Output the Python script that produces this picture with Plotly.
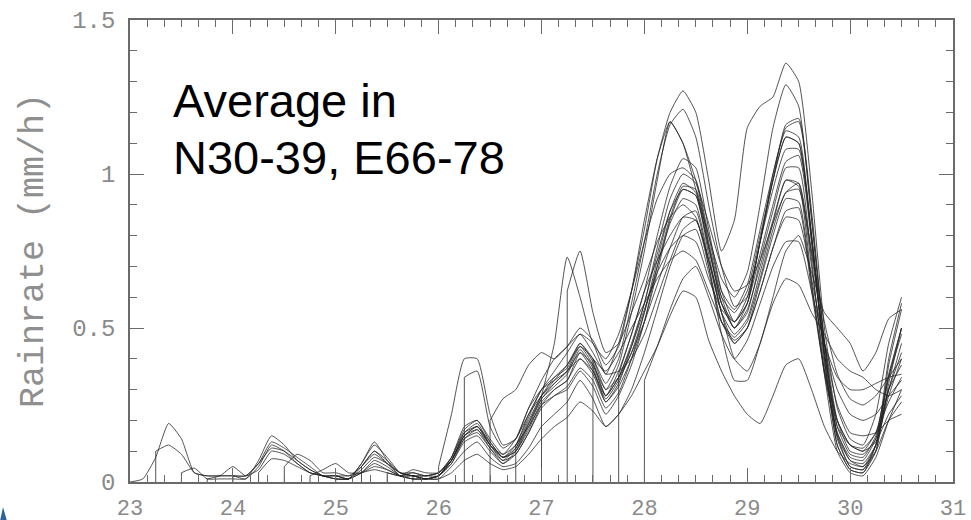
import plotly.graph_objects as go

# ---------------- data ----------------
STEP = 0.125  # days between samples (3-hourly)
START_TIMES = [23.0, 23.25, 23.5, 23.75, 24.0, 24.25, 24.5, 24.75, 25.0, 25.25,
               25.5, 25.75, 26.0, 26.25, 26.5, 26.75, 27.0, 27.25, 27.5, 27.75, 28.0]

M01 = [0.0, 0.01, 0.08, 0.19, 0.14, 0.03, 0.02, 0.02, 0.02, 0.01, 0.07, 0.15, 0.12, 0.07, 0.04, 0.02,
       0.02, 0.01, 0.06, 0.13, 0.07, 0.02, 0.02, 0.01,
       0.02, 0.08, 0.18, 0.20, 0.13, 0.08, 0.10, 0.17, 0.26, 0.30, 0.33, 0.40, 0.35, 0.26, 0.31, 0.40,
       0.52, 0.68, 0.85, 0.95, 0.93, 0.76, 0.58, 0.50, 0.56, 0.70, 0.85, 0.98, 0.96, 0.65, 0.35, 0.16,
       0.07, 0.05, 0.12, 0.28, 0.40]
M02 = [0.10, 0.12, 0.09, 0.03, 0.02, 0.02, 0.02, 0.02, 0.06, 0.13, 0.11, 0.08, 0.05, 0.02,
       0.02, 0.01, 0.05, 0.10, 0.06, 0.02, 0.01, 0.01,
       0.02, 0.07, 0.15, 0.17, 0.11, 0.07, 0.11, 0.20, 0.28, 0.33, 0.38, 0.45, 0.40, 0.30, 0.38, 0.55,
       0.75, 0.98, 1.17, 1.10, 0.95, 0.80, 0.66, 0.60, 0.68, 0.90, 1.15, 1.29, 1.22, 0.85, 0.45, 0.18,
       0.09, 0.08, 0.15, 0.35, 0.50]
M03 = [0.03, 0.045, 0.01, 0.01, 0.01, 0.01, 0.05, 0.12, 0.10, 0.06, 0.03, 0.02,
       0.01, 0.01, 0.06, 0.12, 0.08, 0.03, 0.02, 0.01,
       0.01, 0.05, 0.10, 0.13, 0.08, 0.05, 0.06, 0.11, 0.18, 0.22, 0.26, 0.33, 0.27, 0.18, 0.22, 0.30,
       0.42, 0.56, 0.70, 0.80, 0.82, 0.68, 0.52, 0.46, 0.50, 0.62, 0.76, 0.88, 0.89, 0.62, 0.36, 0.20,
       0.12, 0.10, 0.16, 0.26, 0.34]
M04 = [0.01, 0.02, 0.05, 0.02, 0.04, 0.10, 0.09, 0.06, 0.03, 0.02,
       0.02, 0.01, 0.04, 0.08, 0.06, 0.03, 0.02, 0.01,
       0.02, 0.06, 0.14, 0.16, 0.11, 0.06, 0.09, 0.16, 0.24, 0.28, 0.31, 0.37, 0.33, 0.24, 0.29, 0.40,
       0.55, 0.72, 0.88, 0.97, 0.94, 0.76, 0.60, 0.55, 0.62, 0.80, 0.98, 1.12, 1.10, 0.78, 0.40, 0.12,
       0.04, 0.03, 0.10, 0.38, 0.56]
M05 = [0.02, 0.02, 0.06, 0.11, 0.10, 0.07, 0.04, 0.02,
       0.01, 0.01, 0.03, 0.07, 0.05, 0.02, 0.01, 0.01,
       0.02, 0.07, 0.16, 0.19, 0.12, 0.08, 0.12, 0.22, 0.30, 0.36, 0.42, 0.48, 0.45, 0.35, 0.45, 0.62,
       0.82, 1.05, 1.20, 1.27, 1.20, 0.98, 0.75, 0.85, 1.15, 1.22, 1.25, 1.36, 1.30, 0.95, 0.50, 0.24,
       0.14, 0.12, 0.22, 0.45, 0.60]
M06 = [0.03, 0.075, 0.07, 0.05, 0.03, 0.02,
       0.01, 0.01, 0.03, 0.06, 0.04, 0.02, 0.01, 0.01,
       0.01, 0.03, 0.07, 0.09, 0.06, 0.04, 0.05, 0.09, 0.14, 0.18, 0.21, 0.26, 0.23, 0.18, 0.22, 0.28,
       0.36, 0.44, 0.54, 0.62, 0.60, 0.46, 0.36, 0.28, 0.22, 0.19, 0.28, 0.38, 0.40, 0.30, 0.18, 0.10,
       0.06, 0.05, 0.10, 0.20, 0.26]
M07 = [0.05, 0.09, 0.07, 0.03,
       0.03, 0.02, 0.05, 0.10, 0.07, 0.03, 0.03, 0.02,
       0.03, 0.08, 0.16, 0.18, 0.12, 0.07, 0.09, 0.16, 0.25, 0.30, 0.33, 0.42, 0.36, 0.27, 0.33, 0.42,
       0.55, 0.70, 0.84, 0.92, 0.90, 0.72, 0.55, 0.48, 0.53, 0.68, 0.84, 0.98, 0.97, 0.70, 0.38, 0.15,
       0.07, 0.06, 0.12, 0.30, 0.45]
M08 = [0.02, 0.04,
       0.06, 0.03, 0.03, 0.05, 0.04, 0.02, 0.02, 0.01,
       0.02, 0.06, 0.13, 0.15, 0.10, 0.06, 0.10, 0.19, 0.28, 0.34, 0.38, 0.44, 0.40, 0.32, 0.40, 0.58,
       0.78, 1.00, 1.16, 1.21, 1.12, 0.90, 0.70, 0.57, 0.60, 0.78, 1.00, 1.15, 1.17, 0.86, 0.45, 0.15,
       0.05, 0.04, 0.10, 0.32, 0.50]
M09 = [0.02, 0.02, 0.03, 0.04, 0.03, 0.02, 0.04, 0.03,
       0.03, 0.07, 0.15, 0.18, 0.12, 0.09, 0.14, 0.24, 0.33, 0.40, 0.44, 0.48, 0.42, 0.35, 0.36, 0.40,
       0.48, 0.60, 0.72, 0.82, 0.85, 0.72, 0.55, 0.40, 0.36, 0.45, 0.60, 0.75, 0.80, 0.68, 0.55, 0.50,
       0.45, 0.36, 0.42, 0.53, 0.56]
M10 = [0.05, 0.09, 0.06, 0.03, 0.02, 0.02,
       0.02, 0.07, 0.15, 0.18, 0.13, 0.08, 0.10, 0.18, 0.27, 0.31, 0.35, 0.43, 0.37, 0.26, 0.32, 0.44,
       0.58, 0.76, 0.92, 1.00, 0.97, 0.78, 0.60, 0.50, 0.55, 0.72, 0.88, 1.02, 1.02, 0.72, 0.35, 0.10,
       0.03, 0.02, 0.08, 0.20, 0.30]
M11 = [0.03, 0.02, 0.03, 0.02,
       0.03, 0.08, 0.17, 0.20, 0.14, 0.09, 0.12, 0.21, 0.30, 0.34, 0.37, 0.45, 0.39, 0.28, 0.34, 0.45,
       0.58, 0.74, 0.88, 0.95, 0.93, 0.74, 0.55, 0.45, 0.50, 0.65, 0.80, 0.92, 0.91, 0.64, 0.36, 0.16,
       0.08, 0.07, 0.14, 0.30, 0.38]
M12 = [0.02, 0.02,
       0.03, 0.07, 0.14, 0.17, 0.12, 0.08, 0.11, 0.19, 0.27, 0.32, 0.36, 0.44, 0.38, 0.28, 0.36, 0.48,
       0.62, 0.80, 0.96, 1.05, 1.02, 0.82, 0.62, 0.52, 0.58, 0.78, 0.98, 1.16, 1.18, 0.88, 0.46, 0.20,
       0.10, 0.09, 0.14, 0.30, 0.42]
M13 = [0.05, 0.22, 0.40, 0.40, 0.22, 0.12, 0.14, 0.24, 0.30, 0.33, 0.36, 0.42, 0.38, 0.30, 0.34, 0.42,
       0.52, 0.64, 0.76, 0.86, 0.88, 0.70, 0.48, 0.33, 0.33, 0.45, 0.58, 0.66, 0.64, 0.55, 0.48, 0.40,
       0.36, 0.34, 0.30, 0.28, 0.30]
M14 = [0.34, 0.36, 0.18, 0.11, 0.14, 0.22, 0.28, 0.32, 0.36, 0.40, 0.36, 0.28, 0.34, 0.44,
       0.56, 0.68, 0.76, 0.80, 0.78, 0.66, 0.56, 0.52, 0.60, 0.78, 0.95, 1.08, 1.08, 0.80, 0.42, 0.20,
       0.12, 0.10, 0.13, 0.22, 0.28]
M15 = [0.20, 0.27, 0.30, 0.38, 0.42, 0.40, 0.44, 0.50, 0.46, 0.38, 0.44, 0.62,
       0.85, 1.05, 1.17, 1.10, 0.98, 0.84, 0.70, 0.62, 0.64, 0.72, 0.84, 0.94, 0.97, 0.74, 0.45, 0.25,
       0.16, 0.15, 0.16, 0.20, 0.22]
M16 = [0.12, 0.18, 0.25, 0.28, 0.30, 0.36, 0.31, 0.22, 0.28, 0.38,
       0.52, 0.70, 0.86, 0.96, 0.95, 0.77, 0.58, 0.50, 0.58, 0.78, 0.98, 1.12, 1.10, 0.80, 0.42, 0.14,
       0.05, 0.04, 0.12, 0.34, 0.50]
M17 = [0.28, 0.45, 0.73, 0.60, 0.45, 0.40, 0.48, 0.62,
       0.78, 0.92, 1.00, 1.02, 0.98, 0.80, 0.62, 0.56, 0.64, 0.82, 1.00, 1.14, 1.12, 0.80, 0.40, 0.12,
       0.04, 0.03, 0.12, 0.40, 0.58]
M18 = [0.62, 0.75, 0.55, 0.42, 0.45, 0.55,
       0.66, 0.78, 0.86, 0.90, 0.86, 0.70, 0.52, 0.45, 0.50, 0.62, 0.76, 0.86, 0.85, 0.66, 0.45, 0.30,
       0.22, 0.20, 0.22, 0.28, 0.33]
M19 = [0.40, 0.36, 0.42, 0.50,
       0.58, 0.66, 0.72, 0.75, 0.72, 0.62, 0.52, 0.47, 0.52, 0.66, 0.82, 0.94, 0.95, 0.75, 0.52, 0.35,
       0.27, 0.25, 0.28, 0.34, 0.40]
M20 = [0.35, 0.48,
       0.62, 0.72, 0.80, 0.86, 0.85, 0.72, 0.58, 0.52, 0.58, 0.74, 0.90, 1.04, 1.06, 0.78, 0.42, 0.18,
       0.12, 0.11, 0.16, 0.34, 0.48]
M21 = [0.33, 0.44, 0.56, 0.66, 0.70, 0.60, 0.48, 0.40, 0.46, 0.58, 0.70, 0.78, 0.78, 0.62, 0.45, 0.34,
       0.30, 0.30, 0.32, 0.34, 0.35]

MEMBERS = [M01, M02, M03, M04, M05, M06, M07, M08, M09, M10, M11,
           M12, M13, M14, M15, M16, M17, M18, M19, M20, M21]

X_TICKS = [23, 24, 25, 26, 27, 28, 29, 30, 31]
Y_TICKS = [0, 0.5, 1, 1.5]
Y_TICK_TEXT = ["0", "0.5", "1", "1.5"]
Y_TITLE = "Rainrate (mm/h)"
LABEL_LINES = ["Average in", "N30-39, E66-78"]

# ---------------- figure ----------------
LINE_COLOR = "rgba(35,35,35,0.78)"
AXIS_COLOR = "#6a6a6a"
TICK_FONT = dict(family="Liberation Mono", size=24, color="#8a8a8a")
XTICK_FONT = dict(family="Liberation Mono", size=22, color="#8a8a8a")

fig = go.Figure()

vx, vy = [], []
for start, vals in zip(START_TIMES, MEMBERS):
    xs = [start + STEP * i for i in range(len(vals))]
    fig.add_trace(go.Scatter(x=xs, y=vals, mode="lines",
                             line=dict(color=LINE_COLOR, width=1, shape="spline", smoothing=0.5),
                             showlegend=False, hoverinfo="skip"))
    # each forecast starts from zero at its initial time
    vx += [start, start, None]
    vy += [0, vals[0], None]

fig.add_trace(go.Scatter(x=vx, y=vy, mode="lines",
                         line=dict(color=LINE_COLOR, width=1),
                         showlegend=False, hoverinfo="skip"))

L, R, T, B = 130, 18, 20, 38
W, H = 971, 520
pw, ph = W - L - R, H - T - B


def px2paper(px, py):
    return (px - L) / pw, (H - B - py) / ph


fig.update_layout(
    width=W, height=H,
    margin=dict(l=L, r=R, t=T, b=B, autoexpand=False),
    paper_bgcolor="white", plot_bgcolor="white",
    xaxis=dict(range=[23, 31], tickvals=X_TICKS, ticks="inside", ticklen=14, tickwidth=1.2,
               tickcolor=AXIS_COLOR, showline=True, linecolor=AXIS_COLOR, linewidth=1.5,
               mirror="ticks", showgrid=False, zeroline=False, tickfont=XTICK_FONT,
               ticklabelstandoff=5, ticklabeloverflow="allow", automargin=False,
               minor=dict(tick0=23, dtick=1 / 6, ticks="inside", ticklen=7, tickwidth=1,
                          tickcolor=AXIS_COLOR, showgrid=False)),
    yaxis=dict(range=[0, 1.5], tickvals=Y_TICKS, ticktext=Y_TICK_TEXT, ticks="inside", ticklen=14,
               tickwidth=1.2, tickcolor=AXIS_COLOR, showline=True, linecolor=AXIS_COLOR,
               linewidth=1.5, mirror="ticks", showgrid=False, zeroline=False, tickfont=TICK_FONT,
               ticklabelstandoff=8, automargin=False,
               minor=dict(tick0=0, dtick=0.1, ticks="inside", ticklen=7, tickwidth=1,
                          tickcolor=AXIS_COLOR, showgrid=False)),
)

tx, ty = px2paper(34, 251)
fig.add_annotation(x=tx, y=ty, xref="paper", yref="paper", text=Y_TITLE, textangle=-90,
                   showarrow=False, xanchor="center", yanchor="middle",
                   font=dict(family="Liberation Mono", size=35, color="#8f8f8f"))

for i, line in enumerate(LABEL_LINES):
    ax, ay = px2paper(171, 100 + 57 * i)
    fig.add_annotation(x=ax, y=ay, xref="paper", yref="paper", text=line, showarrow=False,
                       xanchor="left", yanchor="middle",
                       font=dict(family="Liberation Sans, Arial", size=47, color="black"))

# blue slide decoration in the lower-left corner
p = [px2paper(0, 521), px2paper(3, 507), px2paper(7, 521)]
fig.add_shape(type="path", xref="paper", yref="paper",
              path="M {} {} L {} {} L {} {} Z".format(p[0][0], p[0][1], p[1][0], p[1][1], p[2][0], p[2][1]),
              fillcolor="#2f6399", line=dict(width=0))

fig.write_html("out.html", config={"displayModeBar": False},
               post_script="document.body.style.margin='0';document.body.style.overflow='hidden';")
